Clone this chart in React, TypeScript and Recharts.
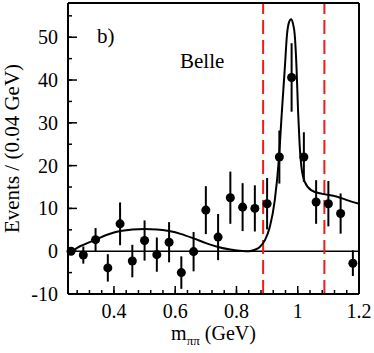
import { ComposedChart, Line, Scatter, ErrorBar, XAxis, YAxis, ReferenceLine } from 'recharts';

// measured bins (centres, GeV) with counts and errors
const binCenters = [0.26, 0.30, 0.34, 0.38, 0.42, 0.46, 0.50, 0.54, 0.58, 0.62, 0.66, 0.70,
  0.74, 0.78, 0.82, 0.86, 0.90, 0.94, 0.98, 1.02, 1.06, 1.10, 1.14, 1.18];
const events = [0, -0.9, 2.7, -3.9, 6.4, -2.3, 2.5, -0.8, 2.1, -5.0, -0.1, 9.6,
  3.3, 12.5, 10.3, 10.0, 11.1, 22.0, 40.6, 22.0, 11.5, 11.1, 8.8, -2.8];
const errors = [0, 2.0, 2.7, 3.2, 5.0, 3.8, 4.7, 4.0, 4.7, 3.8, 4.6, 5.6,
  5.4, 6.1, 5.6, 5.4, 6.0, 6.2, 8.0, 5.8, 5.1, 5.3, 4.7, 3.0];

// fit curve
const fitMass = [0.265, 0.28, 0.30, 0.34, 0.38, 0.42, 0.46, 0.50, 0.54, 0.58, 0.62, 0.66, 0.70,
  0.74, 0.78, 0.82, 0.84, 0.86, 0.876, 0.893, 0.909, 0.925, 0.939, 0.947, 0.958, 0.965,
  0.972, 0.978, 0.985, 0.990, 0.996, 1.001, 1.006, 1.012, 1.023, 1.045, 1.08, 1.126, 1.158, 1.2];
const fitEvents = [0, 0.8, 1.5, 2.7, 3.9, 4.7, 5.1, 5.2, 5.1, 4.7, 4.0, 3.0, 1.9,
  1.0, 0.4, 0.05, 0, 0.35, 1.0, 2.6, 5.7, 11.9, 22.0, 31.3, 43.0, 50.7,
  53.6, 54.2, 53.0, 50.7, 43.0, 32.9, 25.1, 19.7, 16.2, 14.2, 13.4, 12.8, 12.0, 11.1];

const windowEdges = [0.887, 1.087];

const xTicks = [0.28, 0.32, 0.36, 0.4, 0.44, 0.48, 0.52, 0.56, 0.6, 0.64, 0.68, 0.72, 0.76,
  0.8, 0.84, 0.88, 0.92, 0.96, 1.0, 1.04, 1.08, 1.12, 1.16, 1.2];
const yTicks = [-10, -5, 0, 5, 10, 15, 20, 25, 30, 35, 40, 45, 50, 55];

const points = binCenters.map((x, i) => ({ x, y: events[i], err: errors[i] }));
const fit = fitMass.map((x, i) => ({ x, y: fitEvents[i] }));

const FONT = '"Liberation Serif", "DejaVu Serif", serif';
const MINOR = 4;
const MAJOR = 8;

const isMajorX = (v: number) => Math.abs(v * 5 - Math.round(v * 5)) < 1e-6;
const isMajorY = (v: number) => v % 10 === 0;
const fmtX = (v: number) => String(Math.round(v * 10) / 10);

// built-in tick lines give the minor length, majors get extended here
const BottomTick = ({ x, y, payload }: any) => {
  if (!isMajorX(payload.value)) return <g />;
  const axisY = y + MINOR;
  return (
    <g>
      <line x1={x} x2={x} y1={axisY} y2={axisY - MAJOR} stroke="#000" strokeWidth={1.5} />
      <text x={x} y={axisY + 24} textAnchor="middle" fontSize={20} fontFamily={FONT} fill="#000">
        {fmtX(payload.value)}
      </text>
    </g>
  );
};

const TopTick = ({ x, y, payload }: any) => {
  if (!isMajorX(payload.value)) return <g />;
  const axisY = y - MINOR;
  return <line x1={x} x2={x} y1={axisY} y2={axisY + MAJOR} stroke="#000" strokeWidth={1.5} />;
};

const LeftTick = ({ x, y, payload }: any) => {
  if (!isMajorY(payload.value)) return <g />;
  const axisX = x - MINOR;
  return (
    <g>
      <line x1={axisX} x2={axisX + MAJOR + 1} y1={y} y2={y} stroke="#000" strokeWidth={1.5} />
      <text x={axisX - 10} y={y} dy="0.35em" textAnchor="end" fontSize={20} fontFamily={FONT} fill="#000">
        {payload.value}
      </text>
    </g>
  );
};

const RightTick = ({ x, y, payload }: any) => {
  if (!isMajorY(payload.value)) return <g />;
  const axisX = x + MINOR;
  return <line x1={axisX} x2={axisX - MAJOR - 1} y1={y} y2={y} stroke="#000" strokeWidth={1.5} />;
};

const YTitle = ({ viewBox }: any) => {
  const cx = 12;
  const cy = viewBox.y + viewBox.height / 2;
  return (
    <text x={cx} y={cy} transform={`rotate(-90 ${cx} ${cy})`} textAnchor="middle" dominantBaseline="central"
      fontSize={21} fontFamily={FONT} fill="#000">
      Events / (0.04 GeV)
    </text>
  );
};

const XTitle = ({ viewBox }: any) => {
  const cx = viewBox.x + viewBox.width / 2;
  return (
    <text x={cx} y={340} textAnchor="middle" fontSize={20} fontFamily={FONT} fill="#000">
      m
      <tspan fontSize={13} dy={5}>ππ</tspan>
      <tspan dy={-5}> (GeV)</tspan>
    </text>
  );
};

const tickLineStyle = { stroke: '#000', strokeWidth: 1.5 };
const axisLineStyle = { stroke: '#000', strokeWidth: 2 };

export default function App() {
  return (
    <div style={{ position: 'absolute', left: 0, top: 0, width: 374, height: 353, background: '#fff' }}>
      <ComposedChart width={374} height={353} margin={{ top: 2, right: 14, bottom: 0, left: 0 }}>
        <XAxis xAxisId="b" dataKey="x" type="number" domain={[0.25, 1.2]} ticks={xTicks} interval={0}
          height={59} tickSize={-MINOR} tickMargin={0} tickLine={tickLineStyle} tick={<BottomTick />}
          axisLine={axisLineStyle} label={<XTitle />} />
        <XAxis xAxisId="t" dataKey="x" type="number" orientation="top" domain={[0.25, 1.2]} ticks={xTicks}
          interval={0} height={1} tickSize={-MINOR} tickMargin={0} tickLine={tickLineStyle} tick={<TopTick />}
          axisLine={axisLineStyle} />
        <YAxis yAxisId="l" dataKey="y" type="number" domain={[-10, 58]} ticks={yTicks} interval={0}
          width={68} tickSize={-MINOR} tickMargin={0} tickLine={tickLineStyle} tick={<LeftTick />}
          axisLine={axisLineStyle} label={<YTitle />} />
        <YAxis yAxisId="r" dataKey="y" type="number" orientation="right" domain={[-10, 58]} ticks={yTicks}
          interval={0} width={1} tickSize={-MINOR} tickMargin={0} tickLine={tickLineStyle} tick={<RightTick />}
          axisLine={axisLineStyle} />

        <ReferenceLine xAxisId="b" yAxisId="l" y={0} stroke="#000" strokeWidth={1.5} />
        {windowEdges.map((v) => (
          <ReferenceLine key={v} xAxisId="b" yAxisId="l" x={v} stroke="#ee1c1c" strokeWidth={2}
            strokeDasharray="14 6" />
        ))}

        <Line xAxisId="b" yAxisId="l" data={fit} dataKey="y" type="monotone" dot={false}
          stroke="#000" strokeWidth={2} isAnimationActive={false} />
        <Scatter xAxisId="b" yAxisId="l" data={points} dataKey="y" fill="#000" isAnimationActive={false}>
          <ErrorBar dataKey="err" direction="y" width={0} stroke="#000" strokeWidth={2} />
        </Scatter>

        <text x={97} y={43} fontSize={21} fontFamily={FONT} fill="#000">b)</text>
        <text x={180} y={68} fontSize={21} fontFamily={FONT} fill="#000">Belle</text>
      </ComposedChart>
    </div>
  );
}
